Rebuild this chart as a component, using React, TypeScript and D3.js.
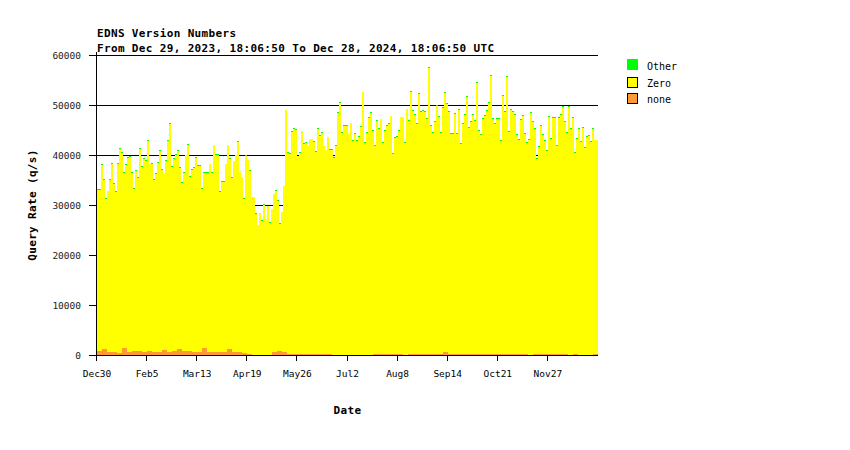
import React from 'react';
import * as d3 from 'd3';

// Stacked top of the "Zero" layer (q/s), one value per ~1.5 day bucket
const zeroRate = [
  33000,33000,38000,35100,31300,32800,35100,38300,34300,32600,
  38200,41300,40500,36500,38000,39500,39700,36500,33300,36900,
  35500,41300,37700,39300,38900,42800,38200,38200,35100,36300,
  38500,40900,37100,36200,38900,42900,46300,37700,39300,40100,
  40900,37500,34500,36500,40000,42000,35700,37100,37500,39500,
  37900,37900,33300,36500,36500,36500,38200,36500,42000,40100,
  40100,32700,
  34700,34700,38200,42000,39300,35500,38800,40000,42700,36600,
  35600,31300,39800,39000,36900,31600,31600,28300,26000,28400,
  26900,30100,27200,29800,26500,29200,32200,32900,30800,26300,
  28600,33800,49000,40500,40300,44700,45300,45100,39800,40500,
  44800,42300,42500,41800,43200,43200,42700,40700,45300,43800,
  44500,41800,41000,43600,41100,41100,39500,41900,48500,50500,
  44500,45900,45900,
  44200,46400,42900,44300,42900,43700,45700,52600,42500,44500,
  47500,48500,44900,41900,46900,45300,47200,42500,44900,45900,
  46300,47800,40300,43500,43700,44900,47600,47600,42500,49200,
  46800,52700,48900,48100,46300,52300,48700,48900,48700,47300,
  57500,45900,44500,46700,49900,47700,44500,49400,52500,50300,
  48700,44300,44300,48300,44300,49100,42300,46300,48100,51700,
  45500,46700,48100,
  46900,54500,44900,44100,47300,47900,48900,50500,55900,47300,
  46300,47300,47300,42900,51900,48700,55700,44700,49100,48700,
  48100,44100,43100,47100,47900,44300,42500,43100,48500,46700,
  45300,39300,41700,45900,44100,42900,40900,47700,43300,47500,
  47500,41900,47500,48100,49700,46700,44500,49700,45300,47500,
  40500,43300,45300,42700,45500,41500,43700,43900,42700,45300,
  43000,43000,
];

// "Other" rate stacked above Zero (q/s), same buckets
const otherRate = [
  200,200,200,200,200,20,200,200,200,200,
  200,200,20,200,200,20,200,200,200,20,
  200,200,200,200,200,200,20,200,20,200,
  200,20,200,20,200,200,200,20,200,200,
  20,200,200,20,20,200,200,200,200,200,
  200,20,200,20,200,20,20,20,20,20,
  200,20,
  20,20,20,20,200,200,20,20,200,20,
  20,20,200,20,200,20,20,200,20,20,
  20,20,20,20,20,20,20,200,200,200,
  20,20,20,20,200,200,200,200,20,200,
  20,200,20,20,20,20,200,20,20,200,
  20,20,20,20,200,20,200,200,200,200,
  20,200,200,
  20,20,200,200,200,200,200,20,20,200,
  200,200,20,20,200,20,20,200,20,200,
  200,20,200,200,200,200,20,20,20,20,
  200,200,200,20,200,200,200,200,200,200,
  200,200,200,200,20,200,200,200,200,200,
  200,20,200,200,200,200,200,200,200,200,
  200,200,20,
  200,200,20,200,200,200,200,200,200,200,
  200,20,20,200,200,200,200,200,200,200,
  200,200,200,200,200,20,200,200,200,200,
  20,200,200,200,200,200,200,20,200,200,
  200,200,200,200,200,200,200,200,200,20,
  200,200,200,200,200,200,200,200,200,200,
  20,20,
];

// "none" rate (q/s), coarser buckets (~3.7 days)
const noneRate = [
  800,1300,700,550,500,1400,600,850,900,700,
  750,600,650,1100,700,750,1300,800,750,700,
  650,1400,700,650,700,600,1200,650,600,450,
  150,100,100,100,100,700,800,700,200,250,
  300,300,300,250,250,200,150,100,100,100,
  100,100,100,100,100,150,300,300,300,250,
  150,100,150,250,250,300,250,250,250,600,
  200,150,150,150,200,200,150,150,200,250,
  200,250,250,150,150,150,100,150,150,150,
  200,150,150,150,100,150,100,100,100,150,
];

const xTickDates = ['2023-12-30','2024-02-05','2024-03-13','2024-04-19','2024-05-26','2024-07-02','2024-08-08','2024-09-14','2024-10-21','2024-11-27'];
const xTickLabels = ['Dec30','Feb5','Mar13','Apr19','May26','Jul2','Aug8','Sep14','Oct21','Nov27'];
const yTicks = [0, 10000, 20000, 30000, 40000, 50000, 60000];
const seriesNames = ['Other', 'Zero', 'none'];
const seriesColors = ['#00ff00', '#ffff00', '#ff9933'];

const titleLines = ['EDNS Version Numbers', 'From Dec 29, 2023, 18:06:50 To Dec 28, 2024, 18:06:50 UTC'];

const FONT = '"DejaVu Sans Mono", monospace';

export default function App() {
  const left = 97, right = 598, top = 55, bottom = 355;
  const N = zeroRate.length;
  const xi = d3.scaleLinear().domain([0, N]).range([left, right]);
  const y = d3.scaleLinear().domain([0, 60000]).range([bottom, top]);
  const t0 = new Date(Date.UTC(2023, 11, 30));
  const t1 = d3.utcDay.offset(t0, 370);
  const xt = d3.scaleUtc().domain([t0, t1]).range([left, right]);
  const v = (arr: number[], i: number) => arr[Math.min(i, arr.length - 1)];

  const idx = d3.range(N + 1);
  const yellowPath = d3.area<number>()
    .x(i => xi(i)).y0(y(0)).y1(i => y(v(zeroRate, i)))
    .curve(d3.curveStepAfter)(idx) || '';
  const greenPath = d3.area<number>()
    .x(i => xi(i)).y0(i => y(v(zeroRate, i))).y1(i => y(v(zeroRate, i) + v(otherRate, i)))
    .curve(d3.curveStepAfter)(idx) || '';
  const M = noneRate.length;
  const xn = d3.scaleLinear().domain([0, M]).range([left, right]);
  const orangePath = d3.area<number>()
    .x(i => xn(i)).y0(y(0)).y1(i => y(v(noneRate, i)))
    .curve(d3.curveStepAfter)(d3.range(M + 1)) || '';

  const parse = d3.utcParse('%Y-%m-%d');

  return (
    <svg width={850} height={450} style={{ position: 'absolute', left: 0, top: 0, background: '#fff' }}
      fontFamily={FONT}>
      <rect x={0} y={0} width={850} height={450} fill="#fff" />
      {/* titles */}
      <text x={97} y={36.5} fontSize={11} fontWeight="bold" letterSpacing={0.35} fill="#000">{titleLines[0]}</text>
      <text x={97} y={52} fontSize={11} fontWeight="bold" letterSpacing={0.35} fill="#000">{titleLines[1]}</text>

      {/* grid lines (beneath data) */}
      <g shapeRendering="crispEdges">
        {yTicks.filter(t => t > 0).map(t => (
          <line key={t} x1={left} x2={right} y1={Math.round(y(t)) + 0.5} y2={Math.round(y(t)) + 0.5} stroke="#000" strokeWidth={1} />
        ))}
      </g>

      {/* data */}
      <g shapeRendering="crispEdges">
        <path d={yellowPath} fill={seriesColors[1]} />
        <path d={greenPath} fill={seriesColors[0]} />
        <path d={orangePath} fill={seriesColors[2]} />
      </g>

      {/* axes */}
      <g shapeRendering="crispEdges" stroke="#000">
        <line x1={left - 0.5} x2={left - 0.5} y1={top - 3} y2={bottom + 1} />
        <line x1={left} x2={right} y1={bottom + 0.5} y2={bottom + 0.5} />
        {yTicks.map(t => (
          <line key={t} x1={left - 8} x2={left} y1={Math.round(y(t)) + 0.5} y2={Math.round(y(t)) + 0.5} />
        ))}
        {xTickDates.map(d => {
          const px = Math.round(xt(parse(d) as Date)) - 0.5;
          return <line key={d} x1={px} x2={px} y1={bottom} y2={bottom + 6} />;
        })}
      </g>
      {yTicks.map(t => (
        <text key={t} x={81} y={y(t) + 3.5} fontSize={9.5} textAnchor="end" fill="#222">{t}</text>
      ))}
      {xTickDates.map((d, i) => (
        <text key={d} x={xt(parse(d) as Date)} y={377} fontSize={9.5} textAnchor="middle" fill="#000">{xTickLabels[i]}</text>
      ))}

      {/* axis titles */}
      <text x={347.5} y={414} fontSize={11} fontWeight="bold" letterSpacing={0.35} textAnchor="middle">Date</text>
      <text transform="translate(36,205) rotate(-90)" fontSize={11} fontWeight="bold" letterSpacing={0.35} textAnchor="middle">Query Rate (q/s)</text>

      {/* legend */}
      <g shapeRendering="crispEdges">
        <rect x={627} y={59} width={11} height={11} fill={seriesColors[0]} />
        <rect x={627.5} y={77.5} width={10} height={10} fill={seriesColors[1]} stroke="#000" />
        <rect x={627.5} y={93.5} width={10} height={10} fill={seriesColors[2]} stroke="#000" />
      </g>
      {seriesNames.map((n, i) => (
        <text key={n} x={647} y={[69.5, 86.5, 103][i]} fontSize={10} fill="#000">{n}</text>
      ))}
    </svg>
  );
}
